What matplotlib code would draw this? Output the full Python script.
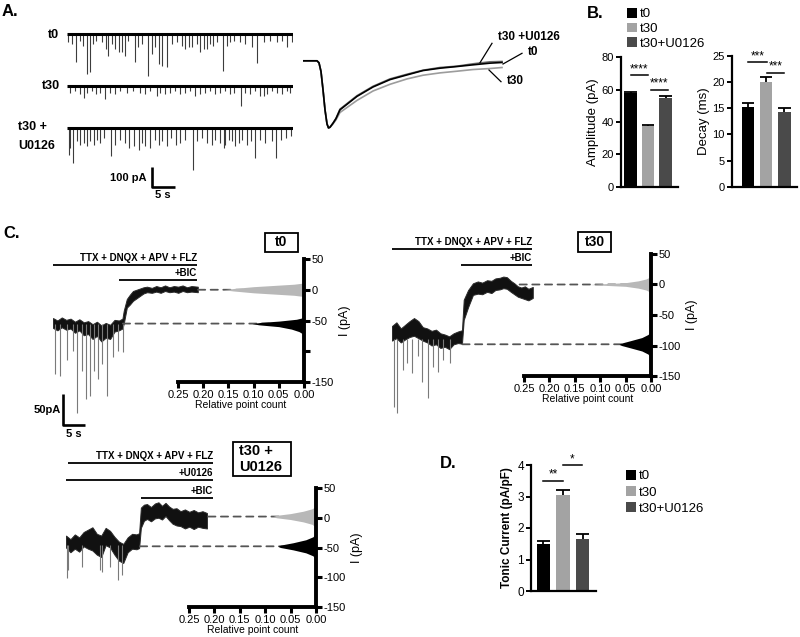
import numpy as np
import matplotlib
matplotlib.use('Agg')
import matplotlib.pyplot as plt
from matplotlib.patches import Rectangle, ConnectionPatch

plt.rcParams['font.family'] = ['Liberation Sans', 'DejaVu Sans']

W, H = 800, 637
fig = plt.figure(figsize=(W / 100, H / 100), dpi=100)


def px_axes(x0, y0, x1, y1, zorder=0):
    ax = fig.add_axes([x0 / W, 1 - y1 / H, (x1 - x0) / W, (y1 - y0) / H], zorder=zorder)
    ax.patch.set_visible(False)
    return ax

# ======================= DATA =======================
groups = ['t0', 't30', 't30+U0126']
bar_colors = ['#000000', '#a3a3a3', '#4a4a4a']

amp_mean = [58, 37.5, 55]
amp_sem = [0.4, 0.4, 1.3]
decay_mean = [15.3, 20.1, 14.35]
decay_sem = [0.65, 0.9, 0.75]
tonic_mean = [1.5, 3.05, 1.65]
tonic_sem = [0.08, 0.17, 0.17]

# panel A: spontaneous events (time s, amplitude pA)
t0_ev_t = [0.3, 1.0, 2.0, 2.8, 3.5, 4.4, 4.9, 5.7, 6.4, 7.5, 8.5, 8.8, 9.7, 10.4, 11.2, 11.9, 12.6, 13.3,
           14.8, 15.5, 16.2, 17.5, 18.4, 19.1, 19.9, 20.7, 21.7, 22.8, 23.8, 24.9, 25.7, 26.4, 27.1, 28.2,
           28.9, 29.8, 30.4, 31.1, 31.8, 32.5, 34.0, 34.7, 35.4, 36.2, 37.6, 38.7, 40.1, 41.2, 42.7, 44.1,
           45.6, 46.7, 47.8, 48.8]
t0_ev_amp = [42, 50, 138, 33, 58, 200, 192, 50, 33, 42, 75, 108, 50, 75, 92, 92, 108, 33,
             142, 67, 50, 210, 100, 67, 150, 158, 167, 50, 42, 58, 75, 67, 67, 50,
             92, 75, 75, 50, 58, 42, 185, 58, 42, 33, 42, 50, 67, 147, 42, 33,
             42, 33, 63, 42]
t30_ev_t = [0.7, 1.7, 2.8, 3.6, 4.4, 5.4, 6.4, 7.2, 8.3, 9.3, 10.4, 11.5, 13.0, 14.4, 15.9, 17.0, 18.0,
            19.5, 20.2, 21.3, 22.4, 23.5, 24.6, 25.7, 26.7, 27.8, 28.9, 30.0, 31.1, 32.2, 33.3, 34.3,
            35.4, 36.2, 37.8, 38.7, 39.8, 40.9, 42.0, 42.7, 43.4, 44.5, 45.6, 46.7, 47.8, 48.5]
t30_ev_amp = [33, 25, 42, 58, 33, 25, 42, 33, 67, 33, 42, 25, 33, 25, 33, 42, 25,
              50, 33, 42, 33, 25, 42, 33, 25, 50, 42, 33, 25, 42, 33, 25,
              42, 33, 100, 33, 42, 25, 50, 50, 42, 25, 33, 42, 25, 33]
t30u_ev_t = [0.4, 0.7, 1.4, 2.2, 2.9, 3.6, 4.3, 5.1, 5.8, 6.5, 7.2, 8.0, 9.6, 10.5, 11.6, 12.7, 13.4,
             14.5, 15.6, 16.3, 17.0, 18.1, 19.2, 19.9, 20.7, 21.7, 22.5, 23.6, 24.6, 25.7, 27.3, 28.3,
             29.3, 30.4, 31.5, 32.2, 33.3, 34.1, 34.4, 35.1, 35.9, 36.6, 37.3, 38.0, 39.1, 39.9, 40.9,
             42.0, 43.1, 44.6, 45.4, 46.4, 47.5, 48.6]
t30u_ev_amp = [133, 100, 175, 67, 83, 75, 92, 67, 83, 58, 75, 50, 142, 83, 58, 75, 100,
               92, 108, 75, 92, 100, 58, 83, 67, 92, 50, 83, 75, 58, 208, 67,
               50, 75, 83, 58, 75, 100, 83, 58, 67, 92, 75, 58, 83, 67, 150,
               58, 75, 67, 150, 58, 50, 42]

# panel A inset: averaged, peak-scaled mIPSCs
avg_time = [0, 7, 8, 9, 10, 11, 12, 12.75, 13.5, 15, 16.5, 18.5, 27, 35, 43.5, 52, 60, 68.5, 77, 85, 93.5, 99.5]
avg_t0 = [0, 0, -0.03, -0.16, -0.43, -0.73, -0.94, -1.0, -0.99, -0.93, -0.86, -0.73, -0.53, -0.39,
          -0.28, -0.21, -0.145, -0.11, -0.085, -0.06, -0.035, -0.025]
avg_t30 = [0, 0, -0.03, -0.16, -0.43, -0.73, -0.94, -1.0, -0.99, -0.94, -0.88, -0.77, -0.59, -0.45,
           -0.35, -0.27, -0.215, -0.18, -0.155, -0.13, -0.115, -0.10]
avg_t30u = [0, 0, -0.03, -0.16, -0.43, -0.73, -0.94, -1.0, -0.99, -0.93, -0.86, -0.72, -0.52, -0.38,
            -0.27, -0.20, -0.14, -0.10, -0.08, -0.045, -0.015, -0.01]

# panel C: holding-current traces (noise envelope, pA) + events, all-point histograms
c0_env_t = [0, 1, 2, 3, 4, 5, 6, 7, 8, 9, 10, 11, 12, 13, 14, 15, 15.8, 16.1, 16.8, 17.5, 18.2, 19.0,
            19.8, 20.6, 21.4, 22.5, 23.5, 24.5, 25.5, 26.5, 27.5, 28.5, 29.5, 30.5, 31.5, 32.95]
c0_env_hi = [-46, -50, -45, -49, -47, -52, -48, -53, -51, -56, -52, -58, -54, -57, -49, -50, -47, -34,
             -15, -8, -2, 0, 2, 4, 5, 3, 6, 4, 7, 4, 6, 5, 7, 4, 6, 5]
c0_env_lo = [-62, -66, -61, -65, -63, -70, -66, -74, -72, -80, -75, -84, -78, -80, -68, -66, -63, -55,
             -29, -24, -18, -14, -10, -6, -4, -5, -3, -5, -2, -4, -3, -5, -2, -4, -3, -4]
c0_sp_t = [0.5, 1.6, 3.2, 4.5, 5.5, 6.6, 7.5, 8.4, 9.3, 10.2, 11.1, 12.3, 13.6, 14.8, 15.9]
c0_sp_min = [-137, -140, -115, -99, -200, -132, -177, -172, -132, -145, -120, -172, -110, -99, -102]

c30_env_t = [0, 1, 2, 3, 4, 5, 6, 7, 8, 9, 10, 11, 12, 13, 14, 15, 15.9, 16.3, 17.3, 18.4, 19.5, 20.5,
             21.6, 22.6, 23.5, 24.5, 25.3, 26.1, 27.0, 27.8, 28.6, 29.4, 30.2, 31.0, 32.0]
c30_env_hi = [-68, -62, -72, -66, -60, -55, -60, -70, -72, -76, -74, -80, -82, -85, -80, -77, -75, -25,
              -9, 2, 5, 3, 7, 6, 10, 11, 13, 12, 6, 2, -3, -5, -3, -7, -4]
c30_env_lo = [-92, -88, -95, -90, -86, -84, -88, -92, -95, -100, -98, -104, -102, -106, -98, -96, -97,
              -58, -37, -17, -15, -16, -12, -14, -9, -8, -6, -7, -12, -16, -20, -22, -24, -26, -22]
c30_sp_t = [0.5, 1.1, 2.5, 3.4, 4.5, 5.9, 6.8, 8.2, 9.3, 10.5, 11.6, 13.2]
c30_sp_min = [-200, -210, -140, -128, -145, -118, -160, -186, -135, -143, -123, -128]

cu_env_t = [0, 1, 2, 3, 4, 5, 6, 7, 8, 9, 10, 11, 12, 13, 14, 15, 16, 16.6, 17.0, 17.7, 18.4, 19.3,
            20.2, 21.0, 21.8, 22.6, 23.4, 24.2, 25.1, 26.0, 27.0, 28.0, 29.0, 30.0, 31.0, 32.0]
cu_env_hi = [-30, -36, -28, -33, -24, -20, -16, -27, -30, -17, -22, -32, -40, -44, -33, -27, -28, -26,
             17, 22, 23, 18, 24, 26, 20, 25, 19, 15, 16, 11, 14, 10, 13, 9, 11, 8]
cu_env_lo = [-50, -58, -52, -57, -48, -52, -55, -62, -66, -46, -50, -62, -72, -76, -58, -52, -53, -51,
             -17, -5, -2, -6, -1, 0, -3, 3, -4, -10, -13, -14, -18, -15, -19, -15, -17, -18]
cu_sp_t = [0.2, 0.5, 3.6, 7.7, 8.2, 10.0, 11.8, 12.7]
cu_sp_min = [-101, -88, -83, -88, -91, -83, -104, -96]

h0_gray_I = [-11, -9, -7, -5, -2, 0, 2, 5, 7, 9, 11]
h0_gray_n = [0, 0.02, 0.06, 0.10, 0.14, 0.16, 0.14, 0.10, 0.06, 0.02, 0]
h0_black_I = [-73, -68, -64, -60, -57, -55, -53, -51, -48, -45]
h0_black_n = [0, 0.01, 0.025, 0.05, 0.09, 0.103, 0.085, 0.05, 0.015, 0]
h30_gray_I = [-13, -9, -6, -3, -1, 0, 1, 3, 6, 9, 13]
h30_gray_n = [0, 0.01, 0.025, 0.05, 0.10, 0.12, 0.10, 0.05, 0.025, 0.01, 0]
h30_black_I = [-120, -114, -109, -104, -100, -98, -96, -92, -87, -82, -77]
h30_black_n = [0, 0.006, 0.018, 0.04, 0.058, 0.063, 0.058, 0.04, 0.018, 0.006, 0]
hu_gray_I = [-16, -11, -7, -3, 0, 2, 4, 7, 11, 15, 19]
hu_gray_n = [0, 0.008, 0.025, 0.05, 0.078, 0.085, 0.078, 0.05, 0.025, 0.008, 0]
hu_black_I = [-70, -64, -59, -54, -50, -48, -46, -42, -37, -32, -26]
hu_black_n = [0, 0.006, 0.02, 0.045, 0.07, 0.075, 0.07, 0.045, 0.02, 0.006, 0]

# ======================= PANEL A =======================
axA = px_axes(67, 20, 293, 200)
axA.set_xlim(0, 49.1)
axA.set_ylim(-830, 70)
axA.axis('off')
for off, et, ea in [(0, t0_ev_t, t0_ev_amp), (-260, t30_ev_t, t30_ev_amp), (-470, t30u_ev_t, t30u_ev_amp)]:
    axA.vlines(et, off, off - np.asarray(ea), color='#3c3c3c', lw=0.8)
    axA.plot([0, 49.1], [off, off], color='black', lw=2.2, solid_capstyle='butt')
# scale bar 100 pA / 5 s
axA.plot([18.5, 18.5, 23.5], [-665, -765, -765], color='black', lw=1.9, solid_capstyle='butt')

axI = px_axes(303, 40, 503, 140)
axI.set_xlim(0, 100)
axI.set_ylim(-1.18, 0.31)
axI.axis('off')
axI.plot(avg_time, avg_t30, color='#9c9c9c', lw=1.2)
axI.plot(avg_time, avg_t30u, color='#6a6a6a', lw=1.2)
axI.plot(avg_time, avg_t0, color='black', lw=1.2)

# ======================= PANELS B & D =======================
def bar_panel(ax, means, sems, ylim, yticks, xlim, width, ylabel, sigs, lab_kw, tick_fs):
    x = np.arange(3)
    bars = ax.bar(x, means, width=width, color=bar_colors, zorder=2)
    tops = np.asarray(means) + np.asarray(sems)
    ax.vlines(x, means, tops, color='black', lw=1.3, zorder=3)
    ax.hlines(tops, x - width / 2, x + width / 2, color='black', lw=1.3, zorder=3)
    ax.set_xlim(*xlim)
    ax.set_ylim(*ylim)
    ax.set_yticks(yticks)
    ax.set_xticks([])
    for s in ['top', 'right']:
        ax.spines[s].set_visible(False)
    for s in ['left', 'bottom']:
        ax.spines[s].set_linewidth(1.6)
    ax.tick_params(axis='y', direction='out', length=3.5, width=1.4, labelsize=tick_fs, pad=1.5)
    ax.set_ylabel(ylabel, **lab_kw)
    for (xa, xb), yv, stars in sigs:
        ax.plot([xa, xb], [yv, yv], color='black', lw=1.1, clip_on=False)
        ax.text((xa + xb) / 2, yv, stars, ha='center', va='bottom', fontsize=8.5, clip_on=False)
    return bars

axAmp = px_axes(620.7, 57.3, 678, 186.7)
bars = bar_panel(axAmp, amp_mean, amp_sem, (0, 80), [0, 20, 40, 60, 80], (-0.56, 2.71), 0.73,
                 'Amplitude (pA)', [((0, 1), 69, '****'), ((1.15, 2.15), 60, '****')],
                 dict(fontsize=9.5, labelpad=2), 8)
axDec = px_axes(731.7, 56, 796.7, 186.7)
bar_panel(axDec, decay_mean, decay_sem, (0, 25), [0, 5, 10, 15, 20, 25], (-0.89, 2.67), 0.68,
          'Decay (ms)', [((0, 1.03), 23.8, '***'), ((1.03, 2.0), 21.8, '***')],
          dict(fontsize=9.5, labelpad=2), 8)
axD = px_axes(531, 465, 596, 591)
barsD = bar_panel(axD, tonic_mean, tonic_sem, (0, 4), [0, 1, 2, 3, 4], (-0.64, 2.69), 0.67,
                  'Tonic Current (pA/pF)', [((0, 1.0), 3.5, '**'), ((1.0, 1.97), 4.0, '*')],
                  dict(fontsize=8.5, fontweight='bold', labelpad=3), 8.5)

leg_kw = dict(loc='upper left', frameon=False, fontsize=9.5, handlelength=0.75, handleheight=0.75,
              handletextpad=0.2, borderpad=0, borderaxespad=0)
fig.legend(bars, groups, bbox_to_anchor=(627 / W, 1 - 8 / H), labelspacing=0.17, **leg_kw)
fig.legend(barsD, groups, bbox_to_anchor=(626 / W, 1 - 470 / H), labelspacing=0.28, **leg_kw)

# ======================= PANEL C =======================
def c_panel(tbox, hbox, tmax, et, ehi, elo, st, smin, sbase, hists, dashes, ylabels):
    axT = px_axes(*tbox)
    axT.set_xlim(0, tmax)
    axT.set_ylim(-150, 50)
    axT.axis('off')
    axT.vlines(st, sbase, smin, color='#7a7a7a', lw=0.8, clip_on=False)
    axT.fill_between(et, elo, ehi, color='#111111', lw=0.7, edgecolor='#2a2a2a', clip_on=False)
    axH = px_axes(*hbox, zorder=1)
    axH.set_xlim(0.25, 0)
    axH.set_ylim(-150, 50)
    for I, n, col in hists:
        axH.fill_betweenx(I, 0, n, color=col, lw=0, clip_on=False)
    for s in ['top', 'left']:
        axH.spines[s].set_visible(False)
    for s in ['right', 'bottom']:
        axH.spines[s].set_linewidth(2.8)
    axH.yaxis.tick_right()
    axH.yaxis.set_label_position('right')
    axH.set_yticks([50, 0, -50, -100, -150])
    axH.set_yticklabels(ylabels)
    axH.set_xticks([0.25, 0.20, 0.15, 0.10, 0.05, 0.00])
    axH.set_xticklabels(['0.25', '0.20', '0.15', '0.10', '0.05', '0.00'])
    axH.tick_params(direction='out', length=4, width=2.2, labelsize=8, pad=1.5)
    axH.set_xlabel('Relative point count', fontsize=7.5, labelpad=0)
    axH.set_ylabel('I (pA)', fontsize=9, labelpad=4)
    for t_start, lev in dashes:
        con = ConnectionPatch(xyA=(t_start, lev), coordsA='data', axesA=axT,
                              xyB=(0, lev), coordsB='data', axesB=axH,
                              color='#555555', lw=1.3, linestyle=(0, (4, 3)))
        fig.add_artist(con)
    return axT, axH

axT0, _ = c_panel((53, 259, 198, 382), (178, 259, 304, 382), 33,
                  c0_env_t, c0_env_hi, c0_env_lo, c0_sp_t, c0_sp_min, -55,
                  [(h0_gray_I, h0_gray_n, '#b8b8b8'), (h0_black_I, h0_black_n, '#000000')],
                  [(33, 0), (15.9, -55)], ['50', '0', '-50', '', '-150'])
axT0.plot([2.3, 2.3, 7.3], [-170, -220, -220], color='black', lw=1.9, clip_on=False,
          solid_capstyle='butt')
c_panel((392, 254, 535, 376), (524, 254, 651, 376), 32.5,
        c30_env_t, c30_env_hi, c30_env_lo, c30_sp_t, c30_sp_min, -90,
        [(h30_gray_I, h30_gray_n, '#b8b8b8'), (h30_black_I, h30_black_n, '#000000')],
        [(29, 0), (16.0, -98)], ['50', '0', '-50', '-100', '-150'])
c_panel((66, 488, 210, 607), (189, 488, 316, 607), 32.7,
        cu_env_t, cu_env_hi, cu_env_lo, cu_sp_t, cu_sp_min, -45,
        [(hu_gray_I, hu_gray_n, '#b8b8b8'), (hu_black_I, hu_black_n, '#000000')],
        [(32.3, 2), (16.8, -48)], ['50', '0', '-50', '-100', '-150'])

# ======================= OVERLAY (labels, annotations) =======================
ov = px_axes(0, 0, W, H, zorder=5)
ov.set_xlim(0, W)
ov.set_ylim(H, 0)
ov.axis('off')
B = dict(fontweight='bold', va='center')
ov.text(2, 12, 'A.', fontsize=12, ha='left', **B)
ov.text(587, 13, 'B.', fontsize=12, ha='left', **B)
ov.text(3, 233, 'C.', fontsize=12, ha='left', **B)
ov.text(440, 463, 'D.', fontsize=12, ha='left', **B)

ov.text(59, 35, 't0', fontsize=9, ha='right', **B)
ov.text(60, 86, 't30', fontsize=9, ha='right', **B)
ov.text(18, 127, 't30 +', fontsize=9, ha='left', **B)
ov.text(18, 146, 'U0126', fontsize=9, ha='left', **B)
ov.text(146, 178, '100 pA', fontsize=8, ha='right', **B)
ov.text(163, 195, '5 s', fontsize=8, ha='center', **B)

ov.text(498, 37, 't30 +U0126', fontsize=8.5, ha='left', **B)
ov.text(528, 52, 't0', fontsize=8.5, ha='left', **B)
ov.text(507, 81, 't30', fontsize=8.5, ha='left', **B)
for (xa, ya), (xb, yb) in [((480, 62.7), (492, 43.3)), ((503, 64), (522, 53.3)), ((489, 70), (501, 81.7))]:
    ov.plot([xa, xb], [ya, yb], color='black', lw=0.9)

# C drug bars & boxes
def drug(x0, x1, y_line, label):
    ov.plot([x0, x1], [y_line, y_line], color='black', lw=1.3, solid_capstyle='butt')
    ov.text(x1, y_line - 7, label, fontsize=7, ha='right', **B)

drug(53, 197, 265, 'TTX + DNQX + APV + FLZ')
drug(119, 197, 280, '+BIC')
drug(392, 532, 249, 'TTX + DNQX + APV + FLZ')
drug(461, 532, 265, '+BIC')
drug(68, 213, 463, 'TTX + DNQX + APV + FLZ')
drug(66, 213, 480, '+U0126')
drug(141, 213, 498, '+BIC')

for (x0, y0, x1, y1) in [(265, 233, 298, 252), (578, 232, 611, 252), (233, 442, 291, 476)]:
    ov.add_patch(Rectangle((x0, y0), x1 - x0, y1 - y0, fill=False, ec='black', lw=1.3))
ov.text(281.5, 242.5, 't0', fontsize=10, ha='center', **B)
ov.text(594.5, 242, 't30', fontsize=10, ha='center', **B)
ov.text(239, 451, 't30 +', fontsize=10.5, ha='left', **B)
ov.text(239, 467, 'U0126', fontsize=10.5, ha='left', **B)

ov.text(61, 410, '50pA', fontsize=8, ha='right', **B)
ov.text(74, 434, '5 s', fontsize=8, ha='center', **B)

fig.savefig('out.png', dpi=100)
